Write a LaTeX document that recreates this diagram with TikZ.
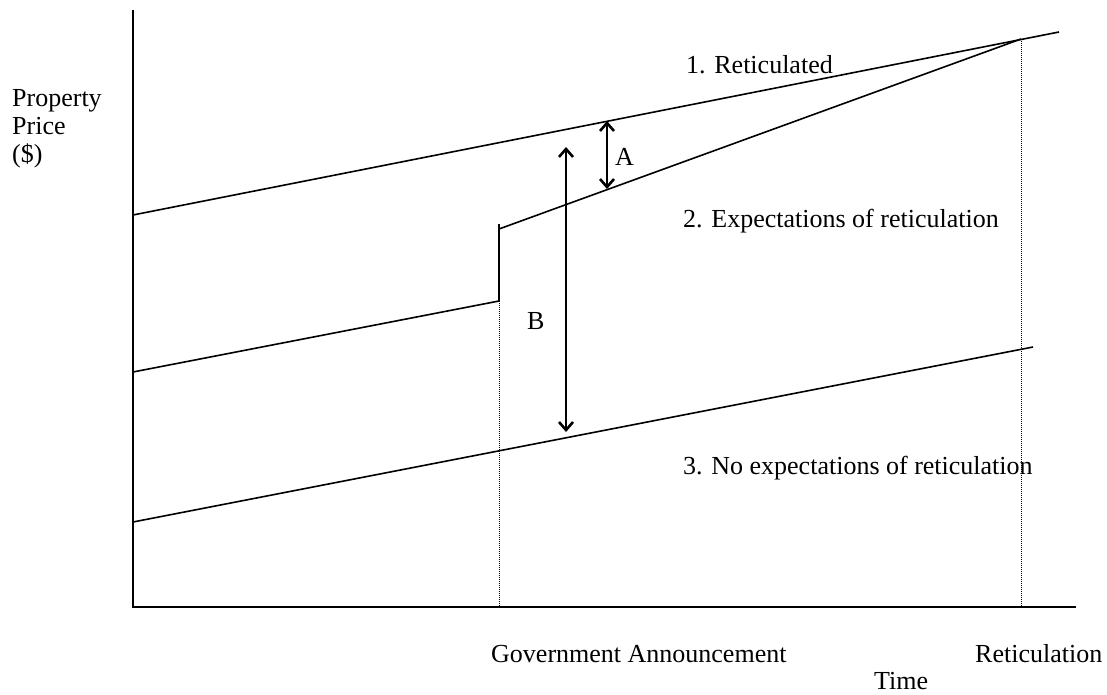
\documentclass[tikz,border=0pt]{standalone}
\usepackage{fontspec}
\setmainfont{Liberation Serif}
\usetikzlibrary{arrows.meta}
\tikzset{
    curve/.style={line width=1.6pt},
    axis/.style={line width=2.4pt},
    guide/.style={densely dotted, line width=1pt},
    gap/.style={line width=2.6pt, {Straight Barb[length=8pt, width=14pt]}-{Straight Barb[length=8pt, width=14pt]}},
    lbl/.style={anchor=base west, inner sep=0pt, font=\fontsize{26}{29}\selectfont},
}

\begin{document}
\begin{tikzpicture}[x=1pt, y=-1pt]
    \useasboundingbox (0, 0) rectangle (1107, 695);
    % axes
    \coordinate (origin) at (133, 607);
    \coordinate (ytop) at (133, 10);
    \coordinate (xend) at (1076, 607);
    \draw[axis](ytop)--(origin)--(xend);
    % time markers
    \coordinate (ann) at (499, 607);
    \coordinate (ret) at (1021, 607);
    % 1. reticulated
    \coordinate (r1s) at (133, 215);
    \coordinate (r1e) at (1059, 32);
    \draw[curve](r1s)--(r1e);
    % 2. expectations, with the jump at the announcement
    \coordinate (e2s) at (133, 372);
    \coordinate (e2lo) at (499, 301);
    \coordinate (e2hi) at (499, 224);
    \coordinate (e2a) at (499, 229);
    \coordinate (e2e) at (1021, 39);
    \draw[curve](e2s)--(e2lo)--(e2hi);
    \draw[curve](e2a)--(e2e);
    % 3. no expectations
    \coordinate (n3s) at (133, 522);
    \coordinate (n3e) at (1033, 347);
    \draw[curve](n3s)--(n3e);
    % dotted guides
    \draw[guide](e2lo)--(ann);
    \draw[guide](e2e)--(ret);
    % gaps A and B
    \coordinate (atop) at (607, 121);
    \coordinate (abot) at (607, 189);
    \draw[gap](atop)--(abot);
    \coordinate (btop) at (566, 147);
    \coordinate (bbot) at (566, 432);
    \draw[gap](btop)--(bbot);
    \node[lbl](labA) at (615, 165) {A};
    \node[lbl](labB) at (527, 329) {B};
    % curve labels
    \node[lbl](lab1) at (686, 74) {1. Reticulated};
    \node[lbl](lab2) at (683, 227) {2. Expectations of reticulation};
    \node[lbl](lab3) at (683, 474) {3. No expectations of reticulation};
    % axis labels
    \node[lbl](yl1) at (12, 107) {Property};
    \node[lbl](yl2) at (12, 135) {Price};
    \node[lbl](yl3) at (12, 163) {(\$)};
    \node[lbl](xl1) at (491, 662) {Government Announcement};
    \node[lbl](xl2) at (975, 662) {Reticulation};
    \node[lbl](xl3) at (874, 689) {Time};
\end{tikzpicture}
\end{document}
